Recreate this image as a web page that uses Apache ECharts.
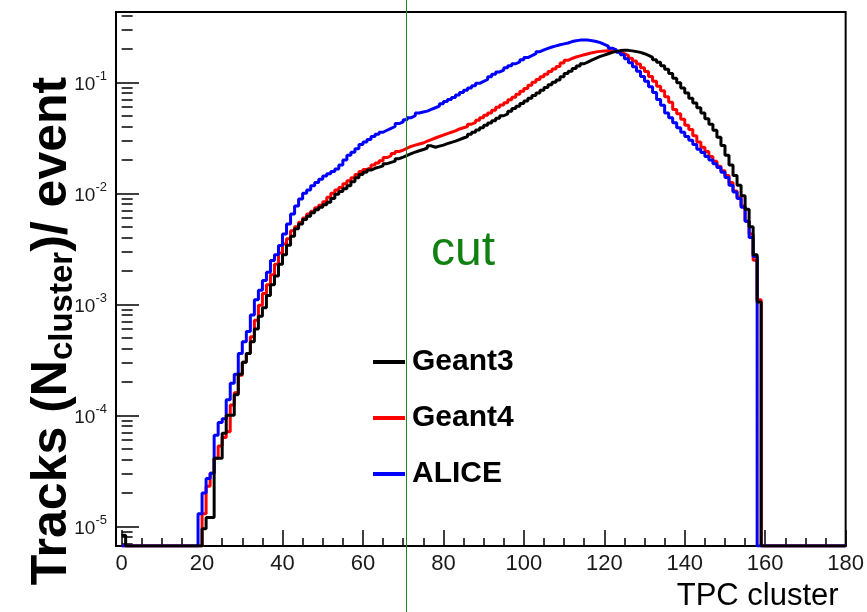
<!DOCTYPE html>
<html>
<head>
<meta charset="utf-8">
<script src="https://cdn.jsdelivr.net/npm/echarts@6/dist/echarts.min.js"></script>
<style>html,body{margin:0;padding:0;background:#fff}#c{width:867px;height:612px}</style>
</head>
<body>
<div id="c"></div>
<script>
// ---- data (bin b covers [b, b+1), bins start at 0) ----
const seriesNames = ['Geant3', 'Geant4', 'ALICE'];
const seriesColors = ['#000000', '#ff0000', '#0000ff'];

const geant3 = [8.3e-6,
  0,0,0,0,0,0,0,0,0,0, 0,0,0,0,0,0,0,0,0,
  9.5e-6,1.2e-5,1.2e-5,4.1e-5,4.1e-5,6.9e-5,1.0e-4,1.0e-4,1.53e-4,2.34e-4,
  3.0e-4,3.6e-4,4.6e-4,6.0e-4,7.8e-4,9.3e-4,1.2e-3,1.5e-3,1.8e-3,2.3e-3,
  2.8e-3,3.4e-3,4.1e-3,4.8e-3,5.3e-3,5.8e-3,6.2e-3,6.7e-3,7.1e-3,7.5e-3,
  7.9e-3,8.3e-3,9.0e-3,9.8e-3,1.04e-2,1.1e-2,1.17e-2,1.27e-2,1.38e-2,1.48e-2,
  1.55e-2,1.62e-2,1.68e-2,1.72e-2,1.77e-2,1.85e-2,1.9e-2,1.95e-2,2.05e-2,2.12e-2,
  2.2e-2,2.28e-2,2.35e-2,2.42e-2,2.48e-2,2.56e-2,2.68e-2,2.6e-2,2.66e-2,2.72e-2,
  2.8e-2,2.88e-2,2.95e-2,3.05e-2,3.15e-2,3.25e-2,3.4e-2,3.55e-2,3.72e-2,3.9e-2,
  4.1e-2,4.3e-2,4.5e-2,4.75e-2,5.0e-2,5.2e-2,5.5e-2,5.8e-2,6.1e-2,6.45e-2,
  6.8e-2,7.2e-2,7.6e-2,8.0e-2,8.5e-2,9.0e-2,9.5e-2,0.100,0.105,0.112,
  0.120,0.126,0.133,0.140,0.147,0.153,0.159,0.165,0.171,0.176,
  0.181,0.186,0.190,0.193,0.194,0.194,0.192,0.189,0.186,0.181,
  0.175,0.168,0.160,0.152,0.141,0.131,0.120,0.109,0.099,0.089,
  0.080,0.072,0.065,0.059,0.053,0.047,0.042,0.037,0.032,0.027,
  0.022,0.018,0.0145,0.0118,0.0095,0.0072,0.0050,0.0028,0.00105];

const geant4 = [
  0,0,0,0,0,0,0,0,0,0, 0,0,0,0,0,0,0,0,0,0,
  1.3e-5,2.3e-5,3.0e-5,4.1e-5,5.3e-5,6.3e-5,7.1e-5,1.24e-4,1.6e-4,2.3e-4,
  3.0e-4,3.6e-4,5.1e-4,7.2e-4,9.8e-4,1.25e-3,1.5e-3,1.85e-3,2.3e-3,2.9e-3,
  3.5e-3,3.9e-3,4.6e-3,5.0e-3,5.5e-3,6.0e-3,6.5e-3,6.9e-3,7.4e-3,7.8e-3,
  8.4e-3,9.2e-3,1.0e-2,1.07e-2,1.13e-2,1.22e-2,1.3e-2,1.38e-2,1.48e-2,1.57e-2,
  1.64e-2,1.7e-2,1.8e-2,1.88e-2,1.97e-2,2.1e-2,2.18e-2,2.28e-2,2.38e-2,2.45e-2,
  2.55e-2,2.65e-2,2.72e-2,2.78e-2,2.84e-2,2.95e-2,3.05e-2,3.15e-2,3.25e-2,3.35e-2,
  3.45e-2,3.55e-2,3.65e-2,3.8e-2,3.9e-2,4.0e-2,4.2e-2,4.35e-2,4.55e-2,4.8e-2,
  5.05e-2,5.3e-2,5.6e-2,5.95e-2,6.25e-2,6.55e-2,6.95e-2,7.35e-2,7.8e-2,8.3e-2,
  8.8e-2,9.4e-2,0.100,0.106,0.112,0.118,0.125,0.132,0.139,0.149,
  0.158,0.164,0.169,0.173,0.177,0.181,0.185,0.188,0.190,0.191,
  0.192,0.191,0.189,0.186,0.181,0.174,0.165,0.156,0.146,0.135,
  0.125,0.113,0.102,0.092,0.084,0.074,0.066,0.057,0.052,0.0465,
  0.041,0.0375,0.033,0.029,0.026,0.0238,0.0215,0.0195,0.0175,0.016,
  0.0145,0.0125,0.0105,0.0092,0.0077,0.0056,0.0043,0.0025,0.0011];

const alice = [
  0,0,0,0,0,0,0,0,0,0, 0,0,0,0,0,0,0,0,0,
  1.3e-5,2.0e-5,2.7e-5,3.0e-5,6.6e-5,8.6e-5,9.3e-5,1.38e-4,1.95e-4,2.35e-4,
  3.6e-4,4.6e-4,5.7e-4,8.0e-4,1.1e-3,1.34e-3,1.64e-3,1.95e-3,2.48e-3,2.8e-3,
  3.38e-3,4.3e-3,5.3e-3,6.5e-3,7.7e-3,8.9e-3,1.0e-2,1.07e-2,1.17e-2,1.25e-2,
  1.34e-2,1.43e-2,1.5e-2,1.57e-2,1.66e-2,1.8e-2,2.0e-2,2.2e-2,2.35e-2,2.52e-2,
  2.75e-2,2.9e-2,3.05e-2,3.25e-2,3.4e-2,3.55e-2,3.7e-2,3.85e-2,4.0e-2,4.25e-2,
  4.4e-2,4.6e-2,4.8e-2,5.0e-2,5.3e-2,5.4e-2,5.5e-2,5.7e-2,5.9e-2,6.1e-2,
  6.4e-2,6.7e-2,7.0e-2,7.3e-2,7.7e-2,8.1e-2,8.5e-2,8.9e-2,9.3e-2,9.8e-2,
  0.102,0.106,0.112,0.118,0.124,0.129,0.135,0.141,0.147,0.153,
  0.160,0.167,0.174,0.181,0.189,0.196,0.202,0.208,0.213,0.218,
  0.222,0.226,0.233,0.237,0.240,0.241,0.240,0.237,0.233,0.228,
  0.220,0.212,0.203,0.196,0.187,0.177,0.163,0.150,0.138,0.126,
  0.113,0.102,0.091,0.081,0.070,0.062,0.053,0.048,0.0433,0.039,
  0.0355,0.0325,0.030,0.0275,0.025,0.0233,0.0215,0.020,0.0185,0.0171,
  0.0155,0.0139,0.0118,0.0103,0.0090,0.0075,0.0056,0.0040,0.0027,0];

const xTickValues = [0, 20, 40, 60, 80, 100, 120, 140, 160, 180];
const xMinorStep = 5;
const yMinorMultipliers = [2, 3, 4, 5, 6, 7, 8, 9];
const X_MIN = -1.4, X_MAX = 180;
const Y_MIN = 6.65e-6, Y_MAX = 0.43;
const CUT_VALUE = 70.6;
const xAxisTitle = 'TPC cluster';

// ---- build ----
const FONT = '"Liberation Sans", Arial, Helvetica, sans-serif';
function steps(vals) {
  const pts = [];
  for (let b = 0; b <= X_MAX; b++) {
    const v = b < vals.length ? vals[b] : 0;
    pts.push([b, v > 0 ? v : Y_MIN]);   // empty bins sit on the frame bottom, as in ROOT
  }
  return pts;
}
const xMinorValues = [];
for (let v = 0; v <= X_MAX; v += xMinorStep) xMinorValues.push(v);
const yMinorLogValues = [];
for (let e = -6; e <= 0; e++) {
  yMinorMultipliers.forEach(m => {
    const val = Math.log10(m * Math.pow(10, e));
    if (val > Math.log10(Y_MIN) && val < Math.log10(Y_MAX)) yMinorLogValues.push(val);
  });
}

const dataBySeries = { 'Geant3': geant3, 'Geant4': geant4, 'ALICE': alice };
const drawOrder = ['Geant4', 'ALICE', 'Geant3'];
const series = drawOrder.map(name => ({
  name: name,
  type: 'line',
  step: 'end',
  xAxisIndex: 0,
  yAxisIndex: 0,
  data: steps(dataBySeries[name]),
  symbol: 'none',
  showSymbol: false,
  clip: true,
  legendIcon: 'rect',
  lineStyle: { width: 3, color: seriesColors[seriesNames.indexOf(name)] },
  itemStyle: { color: seriesColors[seriesNames.indexOf(name)] },
  emphasis: { disabled: true },
  animation: false
}));

const chart = echarts.init(document.getElementById('c'), null, { renderer: 'canvas' });
const option = {
  animation: false,
  backgroundColor: '#ffffff',
  grid: { left: 116, right: 17, top: 12, bottom: 64, show: true, borderColor: '#000', borderWidth: 2, containLabel: false },
  legend: {
    data: seriesNames, orient: 'vertical', left: 373, top: 347, padding: 0,
    itemWidth: 32, itemHeight: 4, itemGap: 26,
    icon: 'rect', selectedMode: false,
    itemStyle: { borderWidth: 0 },
    lineStyle: { width: 4, cap: 'butt' },
    textStyle: { fontSize: 30, fontWeight: 'bold', color: '#000', fontFamily: FONT, lineHeight: 30, padding: [0, 0, 0, 2] }
  },
  xAxis: [{
    type: 'value', min: X_MIN, max: X_MAX, position: 'bottom',
    axisLine: { show: true, onZero: false, lineStyle: { color: '#000', width: 2 } },
    axisTick: { show: true, inside: true, length: 16, customValues: xTickValues, lineStyle: { color: '#000', width: 1.5 } },
    axisLabel: { show: true, customValues: xTickValues, fontSize: 22, color: '#1a1a1a', fontFamily: FONT, margin: 7 },
    splitLine: { show: false },
    name: xAxisTitle, nameLocation: 'end', nameGap: -7,
    nameTextStyle: { fontSize: 31, color: '#000', fontFamily: FONT, align: 'right', verticalAlign: 'top', padding: [35, 0, 0, 0] }
  }, {
    type: 'value', min: X_MIN, max: X_MAX, position: 'bottom',
    axisLine: { show: false },
    axisTick: { show: true, inside: true, length: 8, customValues: xMinorValues, lineStyle: { color: '#000', width: 1.5 } },
    axisLabel: { show: false },
    splitLine: { show: false }
  }],
  yAxis: [{
    type: 'log', logBase: 10, min: Y_MIN, max: Y_MAX, position: 'left',
    axisLine: { show: true, onZero: false, lineStyle: { color: '#000', width: 2 } },
    axisTick: { show: true, inside: true, length: 23, lineStyle: { color: '#000', width: 1.5 } },
    axisLabel: {
      show: true, margin: 9, color: '#1a1a1a', fontFamily: FONT,
      formatter: function (v) {
        const l = Math.log10(v), e = Math.round(l);
        if (Math.abs(l - e) > 0.01) return '';
        return '{b|10}{s|' + e + '}';
      },
      rich: {
        b: { fontSize: 19, lineHeight: 24, verticalAlign: 'bottom', color: '#1a1a1a', fontFamily: FONT },
        s: { fontSize: 13, lineHeight: 13, verticalAlign: 'top', color: '#1a1a1a', fontFamily: FONT }
      }
    },
    splitLine: { show: false }
  }, {
    type: 'value', min: Math.log10(Y_MIN), max: Math.log10(Y_MAX), position: 'left',
    axisLine: { show: false },
    axisTick: { show: true, inside: true, length: 11, customValues: yMinorLogValues, lineStyle: { color: '#000', width: 1.5 } },
    axisLabel: { show: false },
    splitLine: { show: false }
  }],
  series: series
};
chart.setOption(option);

const cutX = chart.convertToPixel({ xAxisIndex: 0 }, CUT_VALUE);
chart.setOption({
  graphic: [
    { type: 'line', z: 100, silent: true,
      shape: { x1: Math.round(cutX) + 0.5, y1: 0, x2: Math.round(cutX) + 0.5, y2: 612 },
      style: { stroke: '#1e8a1e', lineWidth: 1 } },
    { type: 'text', z: 100, silent: true, left: Math.round(cutX) + 25, top: 228,
      style: { text: 'cut', fill: '#108010', font: '48px "Liberation Sans", Arial, sans-serif' } },
    { type: 'text', z: 100, silent: true, x: 53, y: 331, rotation: Math.PI / 2,
      style: {
        text: '{m|Tracks (N}{s|cluster}{m|)/ event}',
        align: 'center', verticalAlign: 'middle',
        rich: {
          m: { fontSize: 50, fontWeight: 'bold', fill: '#000', fontFamily: FONT, lineHeight: 52, verticalAlign: 'top' },
          s: { fontSize: 33, fontWeight: 'bold', fill: '#000', fontFamily: FONT, lineHeight: 33, verticalAlign: 'bottom', padding: [27, 0, 0, 0] }
        }
      } }
  ]
});
</script>
</body>
</html>
